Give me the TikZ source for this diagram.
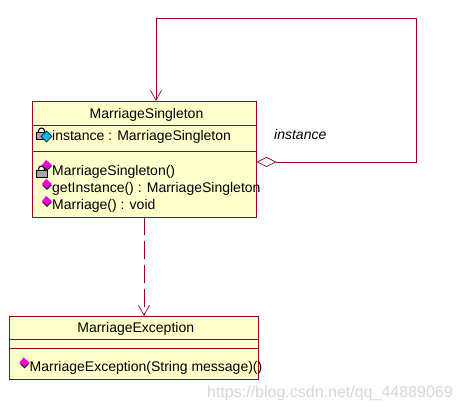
\documentclass[tikz,border=0pt]{standalone}
\usepackage{fontspec}
\setmainfont{Liberation Sans}
\usepackage{tikz}
\usetikzlibrary{positioning, arrows.meta, calc}
\definecolor{umlred}{RGB}{153, 0, 51}
\definecolor{umlfill}{RGB}{255, 255, 204}
\definecolor{umlpink}{RGB}{240, 0, 210}
\definecolor{umlcyan}{RGB}{0, 190, 235}

\begin{document}
\begin{tikzpicture}[
        x=1pt, y=-1pt,
        % Base style for all compartments
        cell/.style={
            draw=umlred,
            fill=umlfill,
            line width=0.9pt,
            inner sep=0pt,
            outer sep=0pt,
            anchor=north west,
            text depth=0pt,
            font=\fontsize{14}{16}\selectfont
        },
        % Plain text inside a compartment
        member/.style={
            anchor=west,
            inner sep=0pt,
            text depth=0pt,
            font=\fontsize{14}{16}\selectfont
        },
        assoc/.style={draw=umlred, line width=0.9pt},
        openhead/.style={-{Straight Barb[length=10pt, width=11pt, line width=0.7pt]}},
        opendiamond/.style={{Diamond[open, fill=white, length=20pt, width=10pt, line width=0.7pt]}-{Straight Barb[length=10pt, width=11pt, line width=0.7pt]}}
    ]

    \useasboundingbox (0,0) rectangle (459,411);

    % 1. Class MarriageSingleton
    \node (single_name) [cell, minimum width=224pt, minimum height=24pt] at (32.5,101) {\hspace*{4pt}MarriageSingleton};
    \node (single_attr) [cell, minimum width=224pt, minimum height=26pt, below=0pt of single_name.south west, anchor=north west] {};
    \node (single_oper) [cell, minimum width=224pt, minimum height=66pt, below=0pt of single_attr.south west, anchor=north west] {};

    % 2. Class MarriageException
    \node (except_name) [cell, minimum width=248.5pt, minimum height=23pt] at (9.5,316) {\hspace*{4pt}MarriageException};
    \node (except_attr) [cell, minimum width=248.5pt, minimum height=9pt, below=0pt of except_name.south west, anchor=north west] {};
    \node (except_oper) [cell, minimum width=248.5pt, minimum height=31pt, below=0pt of except_attr.south west, anchor=north west] {};

    % 3. Members
    \node (m_instance) [member] at (52,135) {instance : MarriageSingleton};
    \node (m_ctor) [member] at (52,170) {MarriageSingleton()};
    \node (m_get) [member] at (52,187.5) {getInstance() : MarriageSingleton};
    \node (m_marriage) [member] at (52,204) {Marriage() : void};
    \node (m_except) [member] at (29.5,366) {MarriageException(String message)()};

    % 4. Lock icons, drawn under the member icons
    \foreach \nm/\dy in {m_instance/-3, m_ctor/0} {
        \draw[black, fill=white, line width=1.1pt] ($(\nm.west)+(-13.5,\dy)$) -- ++(0,-1) arc (180:360:3) -- ++(0,1);
        \fill[gray!70, draw=black, line width=0.6pt] ($(\nm.west)+(-15.5,\dy)$) rectangle ++(10.5,7);
    }

    % 5. Member icons
    \foreach \nm/\dy in {m_ctor/-5, m_get/-3.5, m_marriage/-3, m_except/-3.5} {
        \fill[black] ($(\nm.west)+(-10,\dy+1)$) -- ++(5,5) -- ++(5,-5) -- cycle;
        \fill[umlpink] ($(\nm.west)+(-10,\dy)$) -- ++(4,-5) -- ++(6,5) -- ++(-5,4.5) -- cycle;
    }
    \fill[umlcyan, draw=black, line width=0.5pt] ($(m_instance.west)+(-11,1.5)$) -- ++(5.5,-5.5) -- ++(5.5,5.5) -- ++(-5.5,5.5) -- cycle;

    % 6. Self association
    \coordinate (loop_right) at (416.5,162);
    \coordinate (loop_top) at (156,18);
    \draw[assoc, opendiamond] (single_oper.east |- loop_right) -- (loop_right) -- (loop_right |- loop_top) -- (loop_top) -- (single_name.north -| loop_top);
    \node (role) [anchor=west, inner sep=0pt, font=\fontsize{14}{16}\selectfont\itshape] at (274,134.5) {instance};

    % 7. Dependency
    \coordinate (dep_x) at (144,217);
    \draw[assoc, openhead, dash pattern=on 18pt off 6pt] (dep_x) -- (except_name.north -| dep_x);

    % 8. Watermark
    \node (mark) [anchor=west, inner sep=0pt, text=black!16, font=\fontsize{16}{18}\selectfont] at (207,393) {https://blog.csdn.net/qq\_44889069};

    \end{tikzpicture}
\end{document}
